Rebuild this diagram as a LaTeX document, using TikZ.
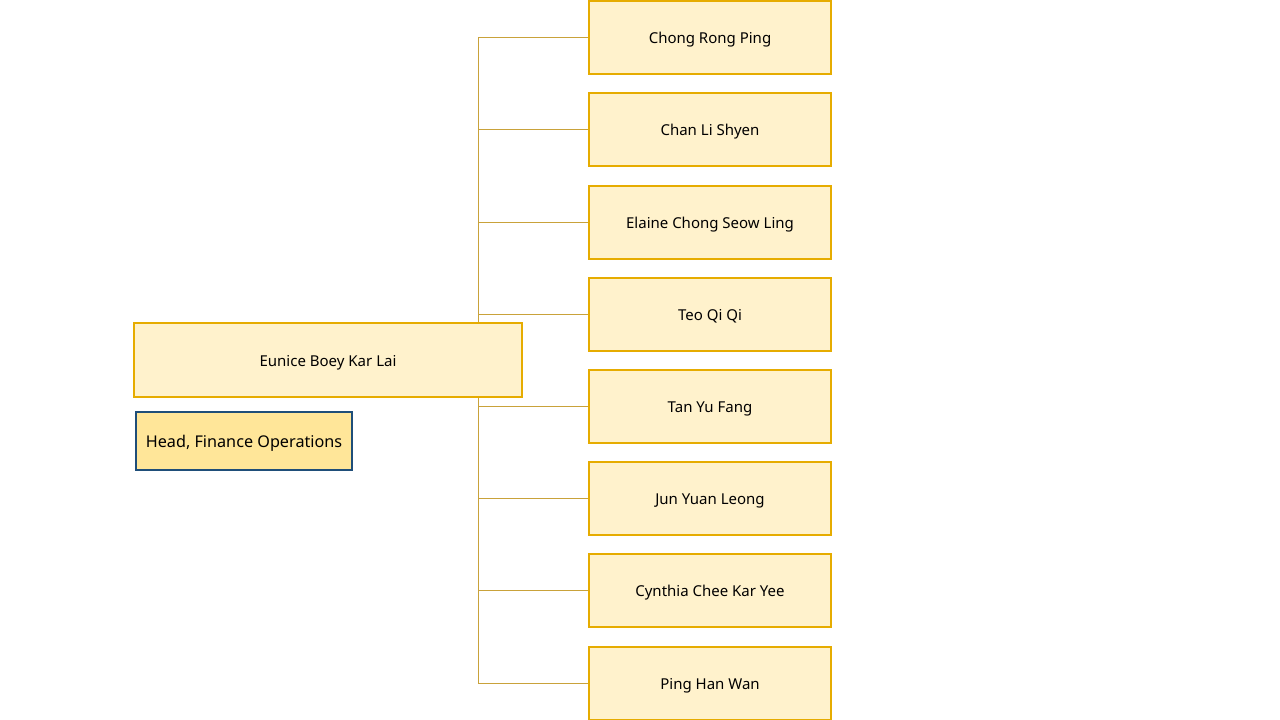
\documentclass[tikz,border=0pt]{standalone}
\usepackage{fontspec}
\setmainfont{Noto Sans}
\definecolor{boxfill}{HTML}{FFF2CC}
\definecolor{boxline}{HTML}{E6AC00}
\definecolor{headfill}{HTML}{FFE699}
\definecolor{headline}{HTML}{1F4E79}
\definecolor{conn}{HTML}{C9A23A}
\begin{document}
\begin{tikzpicture}[x=1pt,y=-1pt,
  person/.style={draw=boxline,fill=boxfill,line width=2pt,minimum width=242pt,minimum height=73pt,inner sep=0pt,text height=12pt,text depth=0pt,font=\fontsize{15}{18}\selectfont},
  mainbox/.style={person,minimum width=388pt,minimum height=74pt},
  titlebox/.style={draw=headline,fill=headfill,line width=2pt,minimum width=216pt,minimum height=58pt,inner sep=0pt,text height=14pt,text depth=2pt,font=\fontsize{16.2}{19}\selectfont},
  link/.style={draw=conn,line width=1pt}]
\useasboundingbox (0,0) rectangle (1280,720);
\fill[white] (0,0) rectangle (1280,720);
\coordinate (top) at (478,37);
\coordinate (bot) at (478,683);
\draw[link] (top) -- (bot);
\node[mainbox] (m) at (328,360) {Eunice Boey Kar Lai};
\node[titlebox] (h) at (244,441) {Head, Finance Operations};
\node[person] (c1) at (710,37) {Chong Rong Ping};
\node[person] (c2) at (710,129.5) {Chan Li Shyen};
\node[person] (c3) at (710,222) {Elaine Chong Seow Ling};
\node[person] (c4) at (710,314) {Teo Qi Qi};
\node[person] (c5) at (710,406) {Tan Yu Fang};
\node[person] (c6) at (710,498) {Jun Yuan Leong};
\node[person] (c7) at (710,590.5) {Cynthia Chee Kar Yee};
\node[person] (c8) at (710,683) {Ping Han Wan};
\foreach \i in {1,...,8} {\draw[link] (top |- c\i.west) -- (c\i.west);}
\end{tikzpicture}
\end{document}
